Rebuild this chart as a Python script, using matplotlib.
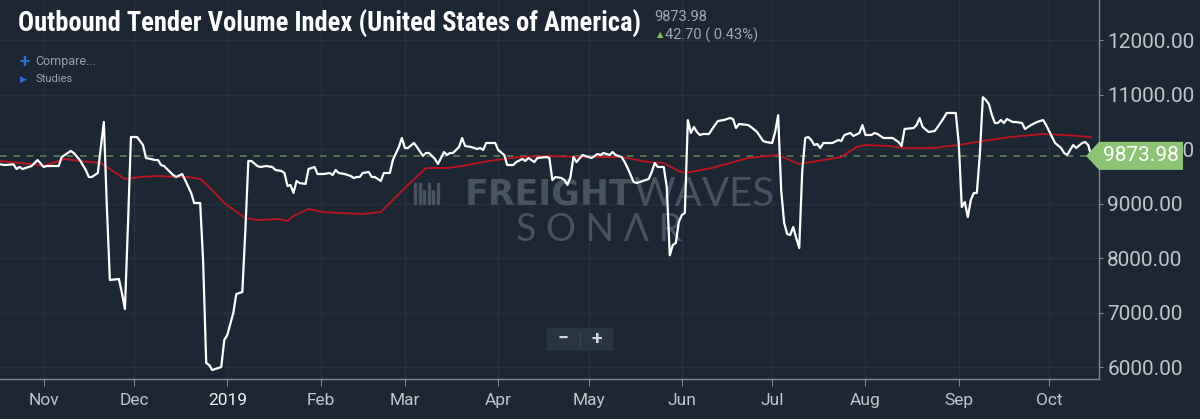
import matplotlib
matplotlib.use("Agg")
import matplotlib.pyplot as plt
from matplotlib import font_manager
from matplotlib.patches import Polygon, FancyBboxPatch, Rectangle
from matplotlib.ticker import FuncFormatter
from matplotlib.transforms import IdentityTransform
import pandas as pd

plt.rcParams['font.family'] = ['Roboto', 'DejaVu Sans']

# daily index values (white line)
index_dates = [
    "2018-10-17", "2018-10-19", "2018-10-22", "2018-10-23", "2018-10-24", "2018-10-25",
    "2018-10-27", "2018-10-28", "2018-10-30", "2018-11-01", "2018-11-02", "2018-11-06",
    "2018-11-07", "2018-11-09", "2018-11-10", "2018-11-11", "2018-11-13", "2018-11-15",
    "2018-11-16", "2018-11-17", "2018-11-19", "2018-11-20", "2018-11-21", "2018-11-22",
    "2018-11-23", "2018-11-26", "2018-11-27", "2018-11-28", "2018-11-29", "2018-11-30",
    "2018-12-02", "2018-12-04", "2018-12-05", "2018-12-08", "2018-12-09", "2018-12-10",
    "2018-12-11", "2018-12-12", "2018-12-14", "2018-12-15", "2018-12-17", "2018-12-18",
    "2018-12-20", "2018-12-21", "2018-12-23", "2018-12-24", "2018-12-25", "2018-12-26",
    "2018-12-27", "2018-12-30", "2018-12-31", "2019-01-01", "2019-01-03", "2019-01-04",
    "2019-01-06", "2019-01-07", "2019-01-08", "2019-01-09", "2019-01-11", "2019-01-12",
    "2019-01-14", "2019-01-16", "2019-01-17", "2019-01-19", "2019-01-20", "2019-01-21",
    "2019-01-22", "2019-01-23", "2019-01-24", "2019-01-25", "2019-01-27", "2019-01-28",
    "2019-01-30", "2019-01-31", "2019-02-02", "2019-02-04", "2019-02-05", "2019-02-06",
    "2019-02-07", "2019-02-09", "2019-02-11", "2019-02-12", "2019-02-13", "2019-02-14",
    "2019-02-15", "2019-02-17", "2019-02-18", "2019-02-19", "2019-02-21", "2019-02-22",
    "2019-02-24", "2019-02-25", "2019-02-27", "2019-02-28", "2019-03-01", "2019-03-02",
    "2019-03-04", "2019-03-05", "2019-03-07", "2019-03-08", "2019-03-09", "2019-03-11",
    "2019-03-12", "2019-03-14", "2019-03-15", "2019-03-16", "2019-03-17", "2019-03-19",
    "2019-03-20", "2019-03-21", "2019-03-23", "2019-03-25", "2019-03-26", "2019-03-27",
    "2019-03-28", "2019-03-31", "2019-04-01", "2019-04-03", "2019-04-04", "2019-04-06",
    "2019-04-07", "2019-04-09", "2019-04-10", "2019-04-11", "2019-04-13", "2019-04-14",
    "2019-04-17", "2019-04-18", "2019-04-19", "2019-04-20", "2019-04-22", "2019-04-23",
    "2019-04-24", "2019-04-25", "2019-04-26", "2019-04-27", "2019-04-29", "2019-05-01",
    "2019-05-02", "2019-05-04", "2019-05-05", "2019-05-06", "2019-05-08", "2019-05-09",
    "2019-05-10", "2019-05-12", "2019-05-13", "2019-05-14", "2019-05-16", "2019-05-17",
    "2019-05-18", "2019-05-21", "2019-05-22", "2019-05-23", "2019-05-24", "2019-05-26",
    "2019-05-27", "2019-05-28", "2019-05-29", "2019-05-30", "2019-05-31", "2019-06-01",
    "2019-06-02", "2019-06-03", "2019-06-04", "2019-06-05", "2019-06-06", "2019-06-07",
    "2019-06-08", "2019-06-10", "2019-06-12", "2019-06-13", "2019-06-15", "2019-06-16",
    "2019-06-17", "2019-06-18", "2019-06-19", "2019-06-20", "2019-06-23", "2019-06-24",
    "2019-06-26", "2019-06-28", "2019-06-29", "2019-07-01", "2019-07-02", "2019-07-03",
    "2019-07-04", "2019-07-05", "2019-07-06", "2019-07-07", "2019-07-08", "2019-07-09",
    "2019-07-10", "2019-07-11", "2019-07-12", "2019-07-13", "2019-07-14", "2019-07-15",
    "2019-07-16", "2019-07-17", "2019-07-18", "2019-07-21", "2019-07-23", "2019-07-24",
    "2019-07-25", "2019-07-27", "2019-07-28", "2019-07-30", "2019-07-31", "2019-08-01",
    "2019-08-03", "2019-08-04", "2019-08-05", "2019-08-07", "2019-08-10", "2019-08-12",
    "2019-08-13", "2019-08-14", "2019-08-17", "2019-08-18", "2019-08-19", "2019-08-20",
    "2019-08-22", "2019-08-24", "2019-08-25", "2019-08-27", "2019-08-28", "2019-08-31",
    "2019-09-01", "2019-09-02", "2019-09-03", "2019-09-04", "2019-09-05", "2019-09-06",
    "2019-09-07", "2019-09-08", "2019-09-09", "2019-09-10", "2019-09-11", "2019-09-12",
    "2019-09-13", "2019-09-14", "2019-09-15", "2019-09-16", "2019-09-17", "2019-09-19",
    "2019-09-20", "2019-09-22", "2019-09-23", "2019-09-24", "2019-09-25", "2019-09-27",
    "2019-09-29", "2019-09-30", "2019-10-02", "2019-10-03", "2019-10-05", "2019-10-06",
    "2019-10-07", "2019-10-09", "2019-10-10", "2019-10-12", "2019-10-13", "2019-10-14",
    "2019-10-15",
]
index_values = [
    9725, 9706, 9719, 9633, 9670, 9633,
    9670, 9688, 9798, 9670, 9688, 9688,
    9853, 9927, 9963, 9927, 9798, 9615,
    9486, 9486, 9560, 10037, 10495, 8936,
    7596, 7615, 7358, 7064, 8600, 10220,
    10220, 10073, 9835, 9798, 9798, 9706,
    9688, 9633, 9523, 9486, 9541, 9431,
    9193, 9009, 9009, 7908, 6073, 6036,
    5945, 6000, 6495, 6587, 6991, 7339,
    7376, 8500, 9780, 9780, 9688, 9670,
    9688, 9670, 9615, 9596, 9560, 9321,
    9339, 9193, 9413, 9376, 9358, 9633,
    9670, 9541, 9541, 9560, 9523, 9615,
    9560, 9541, 9505, 9468, 9486, 9486,
    9560, 9578, 9486, 9486, 9413, 9560,
    9560, 9798, 10037, 10202, 10018, 10018,
    10110, 10037, 9872, 9927, 9927, 9817,
    9725, 9945, 9890, 9927, 9927, 10037,
    10202, 10055, 10037, 10000, 10018, 9982,
    10110, 10110, 9982, 9890, 9706, 9706,
    9761, 9817, 9780, 9835, 9761, 9835,
    9853, 9835, 9431, 9486, 9468, 9431,
    9339, 9486, 9853, 9761, 9890, 9853,
    9835, 9908, 9890, 9927, 9890, 9945,
    9890, 9853, 9761, 9651, 9394, 9376,
    9394, 9450, 9578, 9743, 9670, 9670,
    9300, 8050, 8238, 8275, 8660, 8789,
    8826, 10530, 10294, 10404, 10312, 10257,
    10275, 10275, 10440, 10514, 10532, 10550,
    10569, 10550, 10385, 10459, 10440, 10404,
    10312, 10147, 10128, 10110, 10312, 10620,
    9250, 8642, 8440, 8422, 8569, 8367,
    8183, 9600, 10202, 10220, 10165, 10073,
    10092, 10018, 10110, 10110, 10165, 10147,
    10257, 10294, 10239, 10294, 10440, 10257,
    10257, 10294, 10275, 10202, 10202, 10128,
    10055, 10367, 10385, 10440, 10569, 10404,
    10312, 10330, 10404, 10569, 10661, 10661,
    10100, 8936, 9027, 8752, 9064, 9193,
    9193, 9900, 10950, 10899, 10826, 10624,
    10477, 10477, 10532, 10477, 10550, 10495,
    10495, 10477, 10367, 10404, 10440, 10495,
    10532, 10440, 10220, 10110, 10018, 9927,
    9890, 10073, 10018, 10110, 10128, 10073,
    9873.98,
]

# moving average study (red line)
avg_dates = [
    "2018-10-17", "2018-10-28", "2018-11-01", "2018-11-08", "2018-11-13", "2018-11-20",
    "2018-11-28", "2018-12-03", "2018-12-09", "2018-12-16", "2018-12-19", "2018-12-23",
    "2018-12-26", "2018-12-31", "2019-01-07", "2019-01-11", "2019-01-18", "2019-01-21",
    "2019-01-23", "2019-01-28", "2019-02-02", "2019-02-07", "2019-02-15", "2019-02-21",
    "2019-02-24", "2019-03-02", "2019-03-08", "2019-03-15", "2019-03-20", "2019-03-29",
    "2019-04-08", "2019-04-17", "2019-04-28", "2019-05-12", "2019-05-21", "2019-05-26",
    "2019-05-31", "2019-06-02", "2019-06-11", "2019-06-23", "2019-07-03", "2019-07-10",
    "2019-07-16", "2019-07-24", "2019-07-29", "2019-08-01", "2019-08-09", "2019-08-14",
    "2019-08-23", "2019-09-01", "2019-09-09", "2019-09-18", "2019-09-29", "2019-10-06",
    "2019-10-15",
]
avg_values = [
    9780, 9725, 9688, 9817, 9780, 9743,
    9450, 9486, 9505, 9486, 9486, 9450,
    9303, 9009, 8734, 8697, 8716, 8679,
    8771, 8899, 8844, 8826, 8807, 8844,
    9009, 9339, 9651, 9651, 9688, 9780,
    9853, 9872, 9853, 9853, 9761, 9743,
    9596, 9560, 9651, 9835, 9890, 9725,
    9780, 9853, 10037, 10073, 10055, 10018,
    10018, 10073, 10147, 10220, 10275, 10257,
    10220,
]

title = "Outbound Tender Volume Index (United States of America)"
last_value = 9873.98
change_text = "42.70 ( 0.43%)"
month_ticks = pd.date_range("2018-11-01", "2019-10-01", freq="MS")
y_ticks = [6000, 7000, 8000, 9000, 10000, 11000, 12000]

BG = '#1d2733'
GRID = '#27323e'
AXIS = '#7f8790'
TICK_TXT = '#c1c5ca'
WATER = '#47535f'
W, H = 1200, 419


def have_font(name):
    try:
        font_manager.findfont(font_manager.FontProperties(family=name),
                              fallback_to_default=False)
        return True
    except ValueError:
        return False


def fx(px):
    return px / W


def fy(py):
    return 1 - py / H


fig = plt.figure(figsize=(12, 4.19), dpi=100, facecolor=BG)
ax = fig.add_axes([0.0, fy(379), fx(1099), 1 - fy(379)])
ax.set_facecolor(BG)

ax.plot(pd.to_datetime(avg_dates), avg_values, color='#c01420', lw=1.3, zorder=3)
ax.plot(pd.to_datetime(index_dates), index_values, color='white', lw=1.6, zorder=4)
ax.axhline(last_value, color='#5f7d58', lw=1.2, ls=(0, (4, 4)), zorder=2)

ax.set_xlim(pd.Timestamp("2018-10-17 12:00"), pd.Timestamp("2019-10-17 14:00"))
ax.set_ylim(5780, 12734)

ax.yaxis.tick_right()
ax.set_yticks(y_ticks)
ax.yaxis.set_major_formatter(FuncFormatter(lambda v, p: f"{v:.2f}"))
ax.set_xticks(month_ticks)
ax.set_xticklabels([d.strftime("%Y") if d.month == 1 else d.strftime("%b")
                    for d in month_ticks])

ax.grid(True, color=GRID, lw=0.9)
ax.set_axisbelow(True)
for side in ['left', 'top']:
    ax.spines[side].set_visible(False)
for side in ['right', 'bottom']:
    ax.spines[side].set_color(AXIS)
    ax.spines[side].set_linewidth(1.0)
ax.tick_params(axis='y', colors=AXIS, labelcolor=TICK_TXT, labelsize=15,
               length=3, pad=3)
ax.tick_params(axis='x', colors=AXIS, labelcolor=TICK_TXT, labelsize=12.5,
               length=5, pad=5)
for lbl in ax.get_xticklabels():
    if lbl.get_text() == "2019":
        lbl.set_color('#eef0f2')

# watermark, behind the lines
ax.text(fx(633), fy(194), "FREIGHT", transform=fig.transFigure, ha='right',
        va='center', fontsize=25, fontweight='bold', color=WATER,
        family=['DejaVu Sans'], zorder=1)
ax.text(fx(633), fy(194), "WAVES", transform=fig.transFigure, ha='left',
        va='center', fontsize=29, fontweight='normal', color=WATER,
        family=['Lato', 'DejaVu Sans'], zorder=1)
ax.text(fx(599), fy(230), "S O N Λ R", transform=fig.transFigure, ha='center',
        va='center', fontsize=27, fontweight='normal', color=WATER,
        family=['Lato', 'DejaVu Sans'], zorder=1)
bar_h = [21, 21, 14, 21, 14, 21]
for i, h in enumerate(bar_h):
    ax.add_patch(Rectangle((fx(414 + i * 4.5), fy(204)), fx(2.2), h / H,
                           transform=fig.transFigure, color=WATER, zorder=1))

# zoom control
ctrl = FancyBboxPatch((fx(549), fy(350)), fx(62), 21 / H,
                      boxstyle="round,pad=0.002", transform=fig.transFigure,
                      facecolor='#2a3542', edgecolor='none', zorder=5)
ax.add_patch(ctrl)
ax.text(fx(563), fy(339), "−", transform=fig.transFigure, ha='center',
        va='center', fontsize=14, fontweight='bold', color='#d3d7db', zorder=6)
ax.text(fx(597), fy(339), "+", transform=fig.transFigure, ha='center',
        va='center', fontsize=14, fontweight='bold', color='#d3d7db', zorder=6)
ax.plot([fx(580), fx(580)], [fy(332), fy(347)], transform=fig.transFigure,
        color='#3a4553', lw=1, zorder=6)

# header texts
tfam = 'Roboto'
for cand in ['Roboto Condensed', 'Liberation Sans Narrow']:
    if have_font(cand):
        tfam = cand
        break
title_txt = fig.text(fx(18), fy(24), title, color='white', fontweight='bold',
                     fontsize=17, va='center', family=[tfam, 'DejaVu Sans'])
fig.text(fx(654), fy(17), f"{last_value:.2f}", color='#a3a8ae', fontsize=10.5,
         va='center')
fig.text(fx(660), fy(35), "▲", color='#7cc35a', fontsize=6, va='center',
         ha='center')
fig.text(fx(665), fy(35), change_text, color='#a3a8ae', fontsize=10.5,
         va='center')
fig.text(fx(24), fy(62), "+", color='#2f6fd8', fontsize=13, fontweight='bold',
         va='center', ha='center')
fig.text(fx(35), fy(62), "Compare...", color='#9aa1a8', fontsize=9,
         va='center')
fig.text(fx(23), fy(79), "▶", color='#2f6fd8', fontsize=6.5, va='center',
         ha='center')
fig.text(fx(35), fy(79), "Studies", color='#9aa1a8', fontsize=8, va='center')

fig.canvas.draw()
# size the title so it spans the same width as in the source (about 625 px)
renderer = fig.canvas.get_renderer()
tw = title_txt.get_window_extent(renderer).width
title_txt.set_fontsize(17 * 625 / tw)

# last value tag on the right axis
px = ax.transAxes.transform((1, 0))[0]
py = ax.transData.transform((ax.get_xlim()[0], last_value))[1]
tag = Polygon([(px - 13, py), (px, py + 14), (px + 84, py + 14),
               (px + 84, py - 14), (px, py - 14)], closed=True,
              transform=IdentityTransform(), facecolor='#8cc474',
              edgecolor='none', zorder=10)
fig.add_artist(tag)
tx, ty = fig.transFigure.inverted().transform((px + 42, py))
fig.text(tx, ty, f"{last_value:.2f}", color='white', fontsize=15,
         ha='center', va='center', zorder=11)

fig.savefig("out.png", dpi=100, facecolor=BG)
